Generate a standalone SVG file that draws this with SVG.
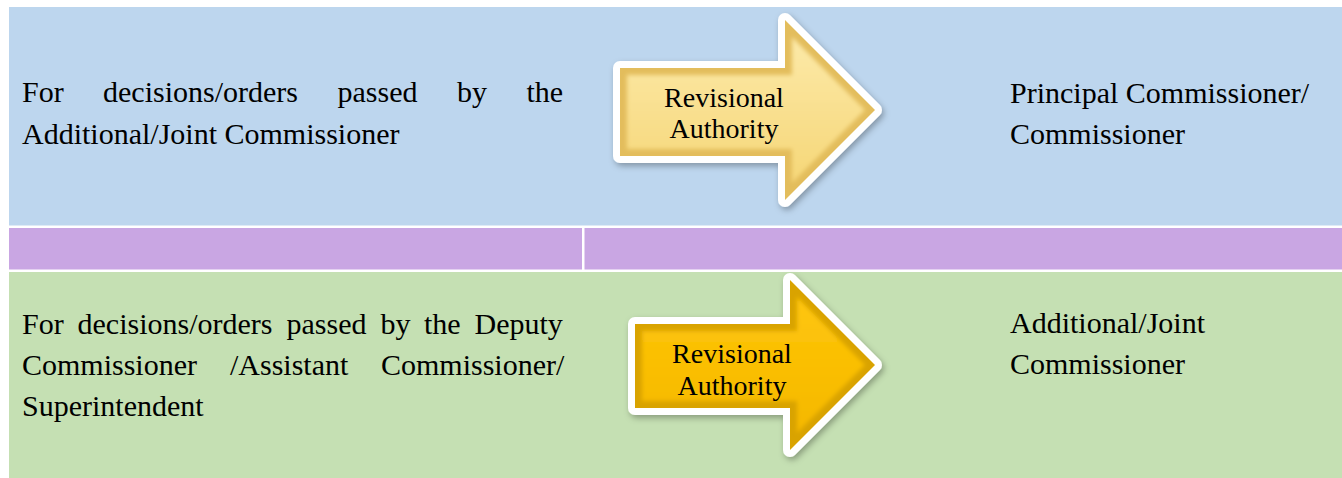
<svg xmlns="http://www.w3.org/2000/svg" width="1342" height="478" viewBox="0 0 1342 478">
<style>
.txt{font-family:'Liberation Serif','Times New Roman',serif;font-size:30px;fill:#000}
.atxt{font-family:'Liberation Serif','Times New Roman',serif;font-size:28px;fill:#000;text-anchor:middle}
.outline{fill:#fff;stroke:#fff;stroke-width:14;stroke-linejoin:round}
</style>
<defs>
<filter id="shadow" x="-10%" y="-10%" width="130%" height="130%">
<feDropShadow dx="2" dy="3" stdDeviation="3" flood-color="#000" flood-opacity="0.3"/>
</filter>
<filter id="soft" x="-5%" y="-5%" width="110%" height="110%">
<feGaussianBlur stdDeviation="2"/>
</filter>
<linearGradient id="face1" x1="0" y1="0" x2="0" y2="1">
<stop offset="0" stop-color="#FCE9A8"/>
<stop offset="1" stop-color="#F6D778"/>
</linearGradient>
<linearGradient id="face2" x1="0" y1="0" x2="0" y2="1">
<stop offset="0" stop-color="#FFC60A"/>
<stop offset="1" stop-color="#F5B800"/>
</linearGradient>
</defs>

<g id="bands">
<rect x="9" y="7" width="1333" height="218.5" fill="#BDD6EE"/>
<rect x="9" y="228" width="573" height="41.5" fill="#C9A6E3"/>
<rect x="584.5" y="228" width="757.5" height="41.5" fill="#C9A6E3"/>
<rect x="9" y="272" width="1333" height="206" fill="#C5E0B3"/>
</g>

<g id="connectors"></g>

<g id="row1-source">
<text class="txt" y="102"><tspan x="22">For</tspan><tspan x="103">decisions/orders</tspan><tspan x="337.5">passed</tspan><tspan x="457">by</tspan><tspan x="526.5">the</tspan></text>
<text class="txt" x="22" y="144">Additional/Joint Commissioner</text>
</g>

<g id="row1-arrow">
<polygon class="outline" filter="url(#shadow)" points="620,68 785,68 785,20 875,110 785,200 785,156 620,156"/>
<polygon fill="#E3BD5C" points="620,68 785,68 785,20 875,110 785,200 785,156 620,156"/>
<polygon fill="url(#face1)" filter="url(#soft)" points="627,75 792,75 792,37 865,110 792,183 792,149 627,149"/>
<text class="atxt" x="724" y="107">Revisional</text>
<text class="atxt" x="724" y="138">Authority</text>
</g>

<g id="row1-target">
<text class="txt" x="1010" y="103">Principal Commissioner/</text>
<text class="txt" x="1010" y="144">Commissioner</text>
</g>

<g id="row2-source">
<text class="txt" y="334"><tspan x="22">For</tspan><tspan x="77.5">decisions/orders</tspan><tspan x="286.5">passed</tspan><tspan x="380.5">by</tspan><tspan x="424">the</tspan><tspan x="474.5">Deputy</tspan></text>
<text class="txt" y="375"><tspan x="22">Commissioner</tspan><tspan x="230">/Assistant</tspan><tspan x="381">Commissioner/</tspan></text>
<text class="txt" x="22" y="416">Superintendent</text>
</g>

<g id="row2-arrow">
<polygon class="outline" filter="url(#shadow)" points="635,324 790,324 790,280 875,365 790,450 790,408 635,408"/>
<polygon fill="#D9A300" points="635,324 790,324 790,280 875,365 790,450 790,408 635,408"/>
<polygon fill="url(#face2)" filter="url(#soft)" points="642,331 797,331 797,297 865,365 797,433 797,401 642,401"/>
<text class="atxt" x="732" y="363">Revisional</text>
<text class="atxt" x="732" y="395">Authority</text>
</g>

<g id="row2-target">
<text class="txt" x="1010" y="333">Additional/Joint</text>
<text class="txt" x="1010" y="374">Commissioner</text>
</g>
</svg>
